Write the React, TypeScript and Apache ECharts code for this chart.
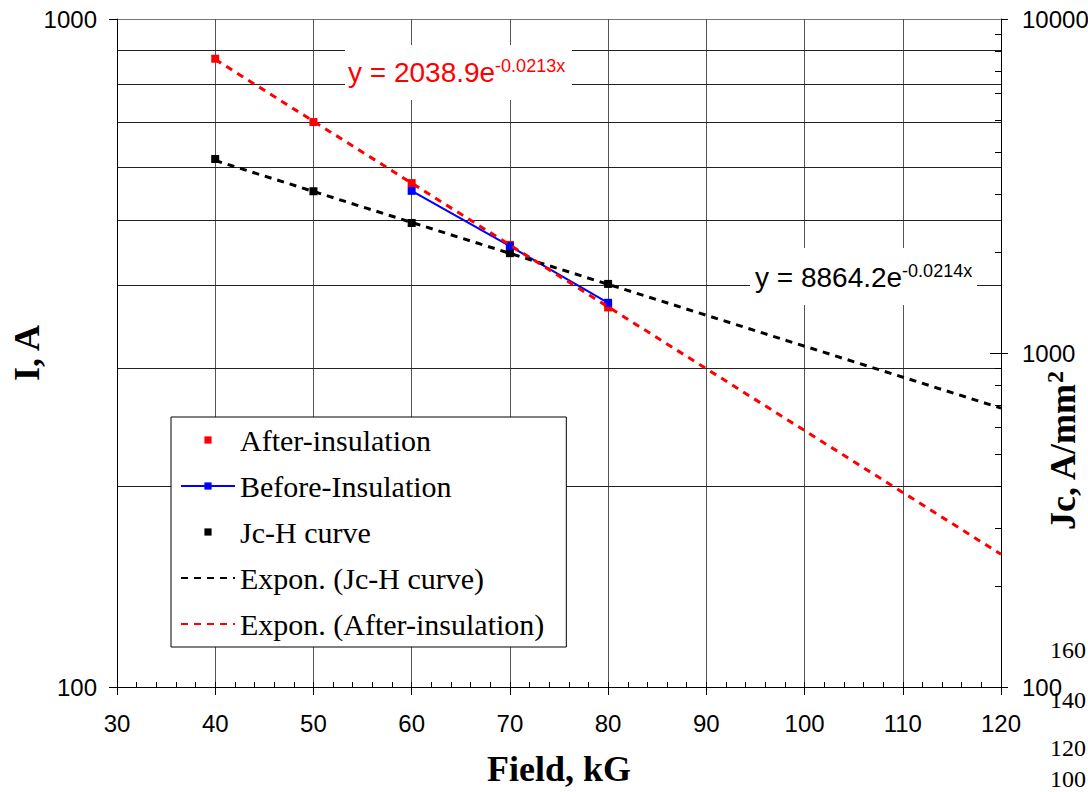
import React, { useEffect, useRef } from "react";
import * as echarts from "echarts";

// ---- data ----
const fieldKG = [40, 50, 60, 70, 80];
const afterInsulation = [872, 701, 568, 459, 370];
const beforeField = [60, 70, 80];
const beforeInsulation = [553, 457, 376];
const jcH = [3810, 3050, 2450, 1990, 1610];
const trendField = [40, 120];
const trendAfter = [870, 158];
const trendJc = [3770, 684];

const X_MIN = 30;
const X_MAX = 120;
const leftGridValues = [200, 300, 400, 500, 600, 700, 800, 900];
const rightInnerTicks = [200, 300, 400, 500, 600, 700, 800, 900, 1000, 2000, 3000, 4000, 5000, 6000, 7000, 8000, 9000];
const strayLabels = ["160", "140", "120", "100"];
const strayY = [650, 700, 748, 779];

const SANS = "'Liberation Sans', Arial, sans-serif";
const SERIF = "'Liberation Serif', 'Times New Roman', serif";

export default function App() {
  const ref = useRef<HTMLDivElement>(null);
  useEffect(() => {
    if (!ref.current) return;
    const chart = echarts.init(ref.current, null, { renderer: "svg" });
    const pair = (xs: number[], ys: number[]) => xs.map((x, i) => [x, ys[i]]);
    const axisLabel = {
      fontSize: 24,
      fontFamily: SANS,
      color: "#000",
      formatter: (v: number) => String(Math.round(v)),
    };
    const option: any = {
      animation: false,
      backgroundColor: "#fff",
      grid: { left: 117, right: 87, top: 19, bottom: 105, containLabel: false, outerBoundsMode: "none" },
      xAxis: [
        {
          type: "value",
          min: X_MIN,
          max: X_MAX,
          interval: 10,
          position: "bottom",
          axisLine: { show: true, onZero: false, lineStyle: { color: "#000", width: 1 } },
          axisTick: { show: true, inside: false, length: 8, lineStyle: { color: "#000" } },
          axisLabel: { ...axisLabel, margin: 24 },
          splitLine: { show: true, lineStyle: { color: "#555", width: 1 } },
          name: "Field, kG",
          nameLocation: "middle",
          nameGap: 64,
          nameMoveOverlap: false,
          nameTextStyle: { fontFamily: SERIF, fontWeight: "bold", fontSize: 36, color: "#000" },
        },
        {
          type: "value",
          min: X_MIN,
          max: X_MAX,
          interval: 2,
          position: "bottom",
          axisLine: { show: false, onZero: false },
          axisTick: { show: true, inside: true, length: 5, lineStyle: { color: "#000" } },
          axisLabel: { show: false },
          splitLine: { show: false },
        },
      ],
      yAxis: [
        {
          type: "log",
          logBase: 10,
          min: 100,
          max: 1000,
          position: "left",
          axisLine: { show: true, lineStyle: { color: "#000" } },
          axisTick: { show: true, length: 8, lineStyle: { color: "#000" } },
          axisLabel: { ...axisLabel, margin: 20 },
          splitLine: { show: true, lineStyle: { color: "#777", width: 1 } },
          name: "I, A",
          nameLocation: "middle",
          nameRotate: 90,
          nameGap: 72,
          nameMoveOverlap: false,
          nameTextStyle: { fontFamily: SERIF, fontWeight: "bold", fontSize: 36, color: "#000" },
        },
        {
          type: "log",
          logBase: 10,
          min: 100,
          max: 10000,
          position: "right",
          axisLine: { show: true, lineStyle: { color: "#000" } },
          axisTick: { show: true, length: 7, lineStyle: { color: "#000" } },
          axisLabel: { ...axisLabel, margin: 21 },
          splitLine: { show: false },
          name: "{m|Jc, A/mm}{s|2}",
          nameLocation: "middle",
          nameRotate: 90,
          nameGap: 42,
          nameMoveOverlap: false,
          nameTextStyle: {
            fontFamily: SERIF,
            fontWeight: "bold",
            fontSize: 36,
            color: "#000",
            padding: [0, 196, 0, 0],
            rich: {
              m: { fontFamily: SERIF, fontWeight: "bold", fontSize: 36, lineHeight: 40, color: "#000" },
              s: { fontFamily: SERIF, fontWeight: "bold", fontSize: 24, lineHeight: 24, verticalAlign: "top", color: "#000" },
            },
          },
        },
      ],
      legend: {
        orient: "vertical",
        left: 171,
        top: 417,
        backgroundColor: "#fff",
        borderColor: "#000",
        borderWidth: 1,
        borderRadius: 0,
        padding: [8, 22, 8, 9],
        itemGap: 16,
        itemWidth: 54,
        itemHeight: 9,
        textStyle: { fontFamily: SERIF, fontSize: 30, color: "#000" },
        data: [
          "After-insulation",
          "Before-Insulation",
          "Jc-H curve",
          { name: "Expon. (Jc-H curve)", itemStyle: { opacity: 0 } },
          { name: "Expon. (After-insulation)", itemStyle: { opacity: 0 } },
        ],
      },
      graphic: [
        { type: "rect", shape: { x: 345, y: 45, width: 227, height: 55 }, style: { fill: "#fff" }, z: 50 },
        {
          type: "text",
          x: 348,
          y: 57,
          z: 51,
          style: {
            text: "{m|y = 2038.9e}{s|-0.0213x}",
            verticalAlign: "top",
            align: "left",
            rich: {
              m: { fontFamily: SANS, fontSize: 28, lineHeight: 30, fill: "#ff0000" },
              s: { fontFamily: SANS, fontSize: 18, lineHeight: 30, verticalAlign: "top", fill: "#ff0000" },
            },
          },
        },
        { type: "rect", shape: { x: 750, y: 248, width: 227, height: 57 }, style: { fill: "#fff" }, z: 50 },
        {
          type: "text",
          x: 755,
          y: 262,
          z: 51,
          style: {
            text: "{m|y = 8864.2e}{s|-0.0214x}",
            verticalAlign: "top",
            align: "left",
            rich: {
              m: { fontFamily: SANS, fontSize: 28, lineHeight: 30, fill: "#000" },
              s: { fontFamily: SANS, fontSize: 18, lineHeight: 30, verticalAlign: "top", fill: "#000" },
            },
          },
        },
        ...strayLabels.map((t, i) => ({
          type: "text",
          x: 1050,
          y: strayY[i],
          z: 60,
          style: { text: t, fontFamily: SERIF, fontSize: 24, fill: "#000", verticalAlign: "middle", align: "left" },
        })),
      ],
      series: [
        {
          type: "custom",
          name: "grid-left",
          xAxisIndex: 0,
          yAxisIndex: 0,
          silent: true,
          z: 0,
          data: leftGridValues.map((v) => [X_MIN, v]),
          renderItem: (params: any, api: any) => {
            const v = api.value(1);
            const a = api.coord([X_MIN, v]);
            const b = api.coord([X_MAX, v]);
            const y = Math.round(a[1]) + 0.5;
            return {
              type: "line",
              shape: { x1: a[0], y1: y, x2: b[0], y2: y },
              style: { stroke: "#222", lineWidth: 1 },
            };
          },
        },
        {
          type: "custom",
          name: "ticks-right",
          xAxisIndex: 0,
          yAxisIndex: 1,
          silent: true,
          z: 5,
          data: rightInnerTicks.map((v) => [X_MAX, v]),
          renderItem: (params: any, api: any) => {
            const v = api.value(1);
            const a = api.coord([X_MAX, v]);
            const len = v === 1000 ? 11 : 6;
            const y = Math.round(a[1]) + 0.5;
            return {
              type: "line",
              shape: { x1: a[0] - len, y1: y, x2: a[0], y2: y },
              style: { stroke: "#000", lineWidth: 1 },
            };
          },
        },
        {
          name: "After-insulation",
          type: "line",
          xAxisIndex: 0,
          yAxisIndex: 0,
          data: pair(fieldKG, afterInsulation),
          symbol: "rect",
          symbolSize: 8,
          itemStyle: { color: "#ff0000" },
          lineStyle: { width: 0, opacity: 0, color: "#ff0000" },
          z: 3,
        },
        {
          name: "Before-Insulation",
          type: "line",
          xAxisIndex: 0,
          yAxisIndex: 0,
          data: pair(beforeField, beforeInsulation),
          symbol: "rect",
          symbolSize: 8,
          itemStyle: { color: "#0000ff" },
          lineStyle: { width: 2, color: "#0000ff" },
          z: 4,
        },
        {
          name: "Jc-H curve",
          type: "line",
          xAxisIndex: 0,
          yAxisIndex: 1,
          data: pair(fieldKG, jcH),
          symbol: "rect",
          symbolSize: 8,
          itemStyle: { color: "#000" },
          lineStyle: { width: 0, opacity: 0, color: "#000" },
          z: 3,
        },
        {
          name: "Expon. (Jc-H curve)",
          type: "line",
          xAxisIndex: 0,
          yAxisIndex: 1,
          data: pair(trendField, trendJc),
          symbol: "none",
          itemStyle: { color: "#000" },
          lineStyle: { width: 3, type: [7, 6], color: "#000" },
          z: 5,
        },
        {
          name: "Expon. (After-insulation)",
          type: "line",
          xAxisIndex: 0,
          yAxisIndex: 0,
          data: pair(trendField, trendAfter),
          symbol: "none",
          itemStyle: { color: "#ff0000" },
          lineStyle: { width: 3, type: [7, 6], color: "#ff0000" },
          z: 5,
        },
      ],
    };
    chart.setOption(option);
    return () => chart.dispose();
  }, []);
  return (
    <div
      ref={ref}
      style={{ position: "fixed", left: 0, top: 0, width: 1088, height: 792, background: "#fff" }}
    />
  );
}
